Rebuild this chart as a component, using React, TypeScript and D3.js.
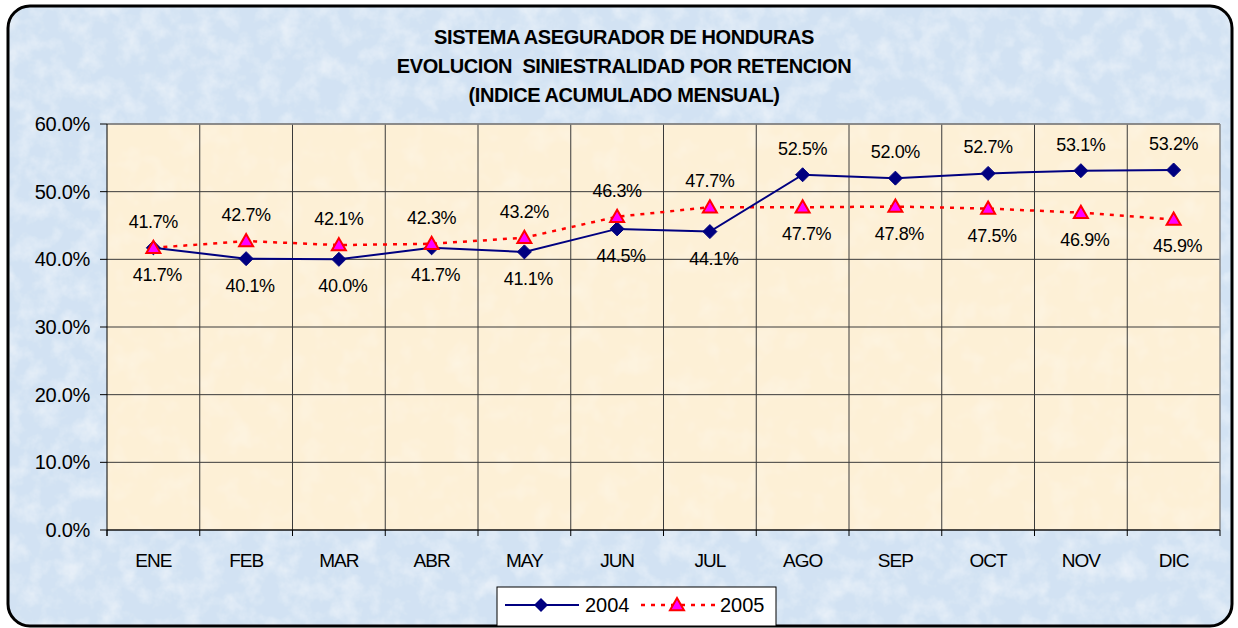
import React from "react";
import * as d3 from "d3";

const months = ["ENE", "FEB", "MAR", "ABR", "MAY", "JUN", "JUL", "AGO", "SEP", "OCT", "NOV", "DIC"];
const series2004 = [41.7, 40.1, 40.0, 41.7, 41.1, 44.5, 44.1, 52.5, 52.0, 52.7, 53.1, 53.2];
const series2005 = [41.7, 42.7, 42.1, 42.3, 43.2, 46.3, 47.7, 47.7, 47.8, 47.5, 46.9, 45.9];
const yTicks = [0, 10, 20, 30, 40, 50, 60];
const titleLines = [
  "SISTEMA ASEGURADOR DE HONDURAS",
  "EVOLUCION  SINIESTRALIDAD POR RETENCION",
  "(INDICE ACUMULADO MENSUAL)",
];

const W = 1238;
const H = 628;
const P = { left: 107, right: 1220, top: 124, bottom: 530 };
const FONT = "'Liberation Sans', Arial, sans-serif";

export default function App() {
  const x = d3.scaleBand<string>().domain(months).range([P.left, P.right]);
  const cx = (m: string) => (x(m) as number) + x.bandwidth() / 2;
  const y = d3.scaleLinear().domain([0, 60]).range([P.bottom, P.top]);

  const line = d3
    .line<number>()
    .x((_, i) => cx(months[i]))
    .y((v) => y(v));

  const diamond = (px: number, py: number, r = 7) =>
    `M${px},${py - r}L${px + r},${py}L${px},${py + r}L${px - r},${py}Z`;
  const tri = (px: number, py: number, s = 7) =>
    `M${px},${py - s}L${px + s},${py + s * 0.75}L${px - s},${py + s * 0.75}Z`;

  const above2004 = (i: number) => i > 0 && series2004[i] > series2005[i];

  return (
    <div style={{ position: "fixed", left: 0, top: 0 }}>
      <svg width={W} height={H} style={{ display: "block" }}>
        <defs>
          <filter id="tex" x="0" y="0" width="100%" height="100%">
            <feTurbulence type="fractalNoise" baseFrequency="0.05" numOctaves="4" seed="3" result="n" />
            <feColorMatrix
              in="n"
              type="matrix"
              values="0 0 0 0 1  0 0 0 0 1  0 0 0 0 1  0 0 0 0.9 -0.36"
              result="w"
            />
            <feComposite in="w" in2="SourceGraphic" operator="in" result="wc" />
            <feMerge>
              <feMergeNode in="SourceGraphic" />
              <feMergeNode in="wc" />
            </feMerge>
          </filter>
          <filter id="tex2" x="0" y="0" width="100%" height="100%">
            <feTurbulence type="fractalNoise" baseFrequency="0.04" numOctaves="3" seed="7" result="n" />
            <feColorMatrix
              in="n"
              type="matrix"
              values="0 0 0 0 1  0 0 0 0 1  0 0 0 0 1  0 0 0 0.5 -0.22"
              result="w"
            />
            <feComposite in="w" in2="SourceGraphic" operator="in" result="wc" />
            <feMerge>
              <feMergeNode in="SourceGraphic" />
              <feMergeNode in="wc" />
            </feMerge>
          </filter>
          <clipPath id="frameClip">
            <rect x={8} y={6} width={1224} height={620} rx={22} />
          </clipPath>
        </defs>
        <rect x={0} y={0} width={W} height={H} fill="#ffffff" />
        <g clipPath="url(#frameClip)">
          <rect x={8} y={6} width={1224} height={620} fill="#d2e2f3" filter="url(#tex)" />
        </g>
        <rect x={8} y={6} width={1224} height={620} rx={22} fill="none" stroke="#000" strokeWidth={3} />

        {titleLines.map((t, i) => (
          <text
            key={i}
            x={624}
            y={44 + i * 29}
            textAnchor="middle"
            fontFamily={FONT}
            fontWeight="bold"
            fontSize={20}
            letterSpacing={-0.4}
            fill="#000"
            style={{ whiteSpace: "pre" }}
          >
            {t}
          </text>
        ))}

        <rect
          x={P.left}
          y={P.top}
          width={P.right - P.left}
          height={P.bottom - P.top}
          fill="#fdf0d6"
          filter="url(#tex2)"
        />
        {yTicks.map((t) => (
          <line key={"h" + t} x1={P.left} x2={P.right} y1={y(t)} y2={y(t)} stroke="#3a3a3a" strokeWidth={1} />
        ))}
        {months.slice(1).map((m) => (
          <line key={"v" + m} x1={x(m)} x2={x(m)} y1={P.top} y2={P.bottom} stroke="#3a3a3a" strokeWidth={1} />
        ))}
        <line x1={P.left} x2={P.right} y1={P.top} y2={P.top} stroke="#888" strokeWidth={1.5} />
        <line x1={P.right} x2={P.right} y1={P.top} y2={P.bottom} stroke="#888" strokeWidth={1.5} />
        <line x1={P.left} x2={P.left} y1={P.top} y2={P.bottom + 6} stroke="#000" strokeWidth={1} />
        <line x1={P.left} x2={P.right} y1={P.bottom} y2={P.bottom} stroke="#000" strokeWidth={1.2} />
        {yTicks.map((t) => (
          <g key={"yt" + t}>
            <line x1={P.left - 7} x2={P.left} y1={y(t)} y2={y(t)} stroke="#000" />
            <text x={P.left - 17} y={y(t) + 7} textAnchor="end" fontFamily={FONT} fontSize={20} letterSpacing={-0.3} fill="#000">
              {t.toFixed(1)}%
            </text>
          </g>
        ))}
        {months.map((m, i) => (
          <g key={"xt" + m}>
            <line x1={x(m)} x2={x(m)} y1={P.bottom} y2={P.bottom + 6} stroke="#000" />
            {i === months.length - 1 && (
              <line x1={P.right} x2={P.right} y1={P.bottom} y2={P.bottom + 6} stroke="#000" />
            )}
            <text
              x={cx(m)}
              y={567}
              textAnchor="middle"
              fontFamily={FONT}
              fontSize={19}
              letterSpacing={-1}
              fill="#000"
            >
              {m}
            </text>
          </g>
        ))}

        <path d={line(series2005) || ""} fill="none" stroke="#ff0000" strokeWidth={2.5} strokeDasharray="4 6" />
        <path d={line(series2004) || ""} fill="none" stroke="#000080" strokeWidth={2} />
        {series2004.map((v, i) => (
          <path key={"d" + i} d={diamond(cx(months[i]), y(v))} fill="#000080" stroke="#000080" />
        ))}
        {series2005.map((v, i) => (
          <path
            key={"t" + i}
            d={tri(cx(months[i]), y(v))}
            fill="#ff00ff"
            stroke="#ff0000"
            strokeWidth={2}
          />
        ))}

        {series2004.map((v, i) => {
          const up = above2004(i);
          return (
            <text
              key={"l4" + i}
              x={cx(months[i]) + (up ? 0 : 4)}
              y={y(v) + (up ? -20 : 33)}
              textAnchor="middle"
              fontFamily={FONT}
              fontSize={18}
              letterSpacing={-0.4}
              fill="#000"
            >
              {v.toFixed(1)}%
            </text>
          );
        })}
        {series2005.map((v, i) => {
          const up = !above2004(i);
          return (
            <text
              key={"l5" + i}
              x={cx(months[i]) + (up ? 0 : 4)}
              y={y(v) + (up ? -20 : 33)}
              textAnchor="middle"
              fontFamily={FONT}
              fontSize={18}
              letterSpacing={-0.4}
              fill="#000"
            >
              {v.toFixed(1)}%
            </text>
          );
        })}

        <rect x={497} y={587} width={279} height={39} fill="#ffffff" stroke="#000" strokeWidth={1} />
        <line x1={505} x2={579} y1={605} y2={605} stroke="#000080" strokeWidth={2} />
        <path d={diamond(541, 605)} fill="#000080" />
        <text x={585} y={612} fontFamily={FONT} fontSize={20} fill="#000">
          2004
        </text>
        <line x1={641} x2={715} y1={605} y2={605} stroke="#ff0000" strokeWidth={2.5} strokeDasharray="4 6" />
        <path d={tri(677, 605)} fill="#ff00ff" stroke="#ff0000" strokeWidth={2} />
        <text x={720} y={612} fontFamily={FONT} fontSize={20} fill="#000">
          2005
        </text>
      </svg>
    </div>
  );
}
